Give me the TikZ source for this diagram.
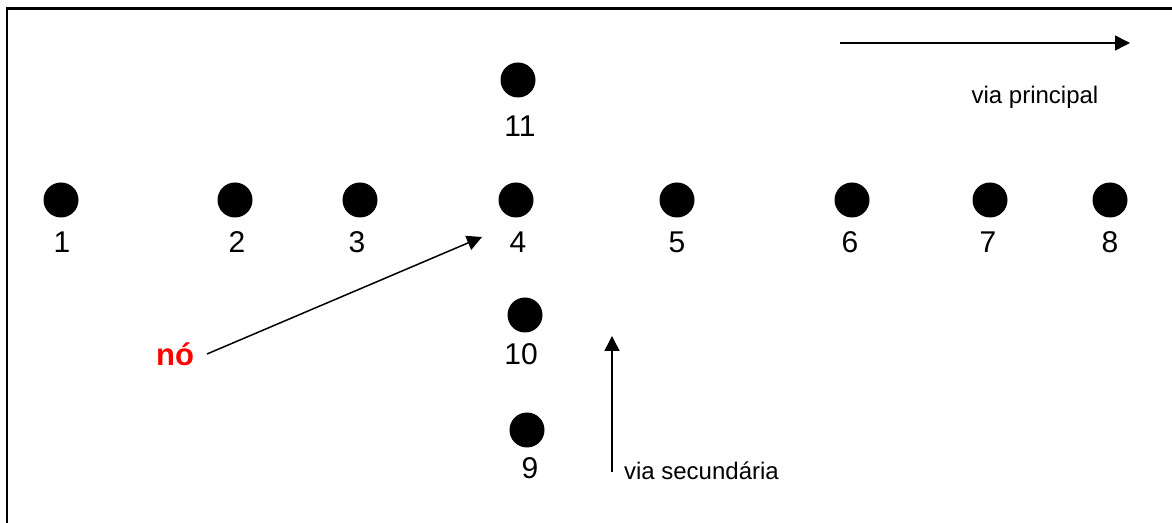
\documentclass[tikz,border=0pt]{standalone}
\usepackage{fontspec}
\setmainfont{Liberation Sans}
\usetikzlibrary{arrows.meta}
\begin{document}
\begin{tikzpicture}[x=0.5pt,y=-0.5pt,
dot/.style={%
circle,
fill=black,
inner sep=0pt,
minimum size=17.5pt
},
num/.style={%
font=\fontsize{15}{17}\selectfont
},
caption/.style={%
font=\fontsize{12}{14}\selectfont
},
arr/.style={%
line width=0.75pt,
-{Triangle[length=7.5pt,width=7.5pt]}
}
]
\useasboundingbox (0,0) rectangle (1172,523);
%% Frame
\draw[line width=1.1pt](7,523)--(7,8.5)--(1172,8.5);
%% Main road
\node[dot]at(61,200)(d1){};
\node[dot]at(235,200)(d2){};
\node[dot]at(360,200)(d3){};
\node[dot]at(516,200)(d4){};
\node[dot]at(677,200)(d5){};
\node[dot]at(852,200)(d6){};
\node[dot]at(990,200)(d7){};
\node[dot]at(1110,200)(d8){};
\node[num]at(62,242)(l1){1};
\node[num]at(237,242)(l2){2};
\node[num]at(357,242)(l3){3};
\node[num]at(518,242)(l4){4};
\node[num]at(677,242)(l5){5};
\node[num]at(850,242)(l6){6};
\node[num]at(988,242)(l7){7};
\node[num]at(1110,242)(l8){8};
%% Cross road
\node[dot]at(518,80)(d11){};
\node[dot]at(525,315)(d10){};
\node[dot]at(527,430)(d9){};
\node[num]at(520,126)(l11){11};
\node[num]at(521,354)(l10){10};
\node[num]at(530,468)(l9){9};
%% Directions
\coordinate(pa)at(840,43);
\coordinate(pb)at(1130,43);
\draw[arr](pa)--(pb);
\node[caption]at(1035,97)(vp){via principal};
\coordinate(sa)at(612,472);
\coordinate(sb)at(612,336);
\draw[arr](sa)--(sb);
\node[caption,anchor=west]at(617,471)(vs){via secundária};
%% Node pointer
\node[text=red,font=\fontsize{15.5}{18}\selectfont\bfseries]at(175,354)(no){nó};
\coordinate(tip)at(482,237);
\draw[arr]([xshift=3pt]no.east)--(tip);
\end{tikzpicture}
\end{document}
